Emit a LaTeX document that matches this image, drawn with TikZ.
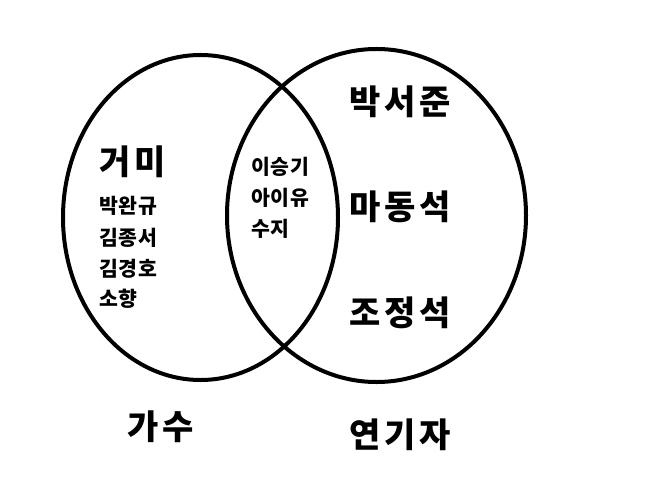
\documentclass[tikz,border=0pt]{standalone}
\usepackage{fontspec}
\newfontfamily\kr{Noto Sans CJK KR}
\newfontfamily\krwide{Noto Sans CJK KR}[LetterSpace=12]
\newfontfamily\krsmall{Noto Sans CJK KR}[LetterSpace=4]
\usetikzlibrary{shapes.geometric}
\tikzset{
  venn/.style={ellipse, draw=black, line width=4bp, inner sep=0pt},
  big/.style={anchor=west, inner sep=0pt, font=\krwide\bfseries\fontsize{34bp}{38bp}\selectfont},
  small/.style={anchor=west, inner sep=0pt, font=\krsmall\bfseries\fontsize{20.5bp}{24bp}\selectfont},
}
\begin{document}
\begin{tikzpicture}[x=1bp, y=-1bp]
\useasboundingbox[fill=white] (0,0) rectangle (656,504);
\node[venn, minimum width=275bp, minimum height=325bp] (singer) at (200.5,217.5) {};
\node[venn, minimum width=299bp, minimum height=333bp] (actor) at (376.5,215.5) {};
% left only
\node[big] (gummy) at (99,162) {거미};
\node[small] (s1) at (99,206) {박완규};
\node[small] (s2) at (99,238) {김종서};
\node[small] (s3) at (99,269) {김경호};
\node[small] (s4) at (99,299) {소향};
% both
\node[small] (b1) at (251,167) {이승기};
\node[small] (b2) at (251,198) {아이유};
\node[small] (b3) at (251,229) {수지};
% right only
\node[big] (a1) at (349,102) {박서준};
\node[big] (a2) at (349,207) {마동석};
\node[big] (a3) at (349,313) {조정석};
% labels
\node[big] (lsinger) at (127,427) {가수};
\node[big] (lactor) at (349,435) {연기자};
\end{tikzpicture}
\end{document}
